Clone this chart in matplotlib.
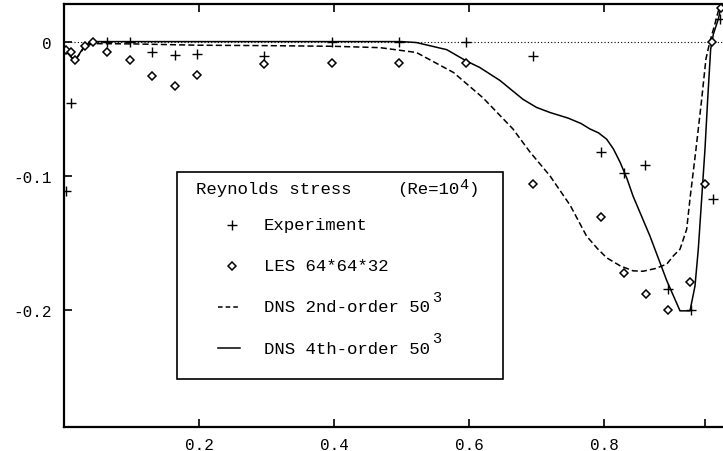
import matplotlib
matplotlib.use("Agg")
import matplotlib.pyplot as plt
from matplotlib.patches import Rectangle
from matplotlib.lines import Line2D

plt.rcParams['font.family'] = ['Liberation Mono', 'DejaVu Sans']
plt.rcParams['axes.unicode_minus'] = False

# ---- data ----
exp_x = [0.003, 0.010, 0.063, 0.098, 0.131, 0.164, 0.197, 0.297, 0.397, 0.496,
         0.595, 0.695, 0.795, 0.829, 0.861, 0.895, 0.929, 0.962, 0.972]
exp_y = [-0.111, -0.046, 0.0, 0.0, -0.008, -0.010, -0.009, -0.011, 0.0, 0.0,
         0.0, -0.011, -0.082, -0.0975, -0.092, -0.184, -0.200, -0.117, 0.017]

les_x = [0.003, 0.010, 0.016, 0.031, 0.043, 0.063, 0.098, 0.131, 0.164, 0.197,
         0.297, 0.397, 0.496, 0.595, 0.695, 0.795, 0.829, 0.862, 0.895, 0.928,
         0.949, 0.960, 0.973]
les_y = [-0.006, -0.008, -0.014, -0.003, 0.0, -0.008, -0.0136, -0.0255, -0.0334, -0.0252,
         -0.0168, -0.0156, -0.0156, -0.0156, -0.106, -0.1305, -0.172, -0.1876, -0.200, -0.179,
         -0.106, 0.0, 0.025]

dns2_x = [0.0, 0.016, 0.031, 0.043, 0.1, 0.2, 0.3, 0.4, 0.468, 0.522, 0.577, 0.621,
          0.665, 0.69, 0.72, 0.75, 0.774, 0.79, 0.804, 0.824, 0.843, 0.858, 0.876, 0.893,
          0.9027, 0.9126, 0.9225, 0.9274, 0.9363, 0.9447, 0.951, 0.957, 0.963, 0.970, 0.975]
dns2_y = [-0.0057, -0.0144, -0.0035, -0.0015, -0.0017, -0.0027, -0.003, -0.0035, -0.0045, -0.0081,
          -0.023, -0.042, -0.065, -0.082, -0.100, -0.122, -0.1447, -0.154, -0.161, -0.167, -0.1707,
          -0.171, -0.169, -0.1657, -0.1596, -0.1546, -0.1397, -0.117, -0.080, -0.043, -0.013,
          0.0003, 0.0107, 0.024, 0.029]

dns4_x = [0.0, 0.016, 0.031, 0.043, 0.1, 0.2, 0.3, 0.4, 0.5, 0.522, 0.567, 0.596, 0.616,
          0.646, 0.663, 0.680, 0.70, 0.72, 0.747, 0.766, 0.779, 0.792, 0.804, 0.814, 0.824,
          0.834, 0.843, 0.868, 0.893, 0.9126, 0.9274, 0.9348, 0.9397, 0.9447, 0.9496, 0.9536,
          0.958, 0.962, 0.9693, 0.9743]
dns4_y = [-0.0057, -0.0144, -0.0027, 0.0, 0.0, 0.0, 0.0, 0.0, 0.0, -0.0007, -0.006, -0.0144,
          -0.0193, -0.029, -0.036, -0.043, -0.049, -0.0528, -0.057, -0.061, -0.065, -0.068,
          -0.0727, -0.080, -0.090, -0.102, -0.115, -0.1447, -0.178, -0.2005, -0.2005, -0.182,
          -0.1546, -0.117, -0.080, -0.043, -0.0057, 0.0055, 0.0167, 0.0278]

xticks = [0.2, 0.4, 0.6, 0.8]
xticklabels = ['0.2', '0.4', '0.6', '0.8']
yticks = [0.0, -0.1, -0.2]
yticklabels = ['0', '-0.1', '-0.2']

W, H = 723, 452
fig = plt.figure(figsize=(W / 100, H / 100), dpi=100)
ax = fig.add_axes([64 / W, 1 - 428 / H, 675 / W, 423 / H])

ax.axhline(0, color='black', lw=0.8, ls=(0, (1, 2)))
ax.plot(dns2_x, dns2_y, color='black', lw=1.1, ls=(0, (4, 2)))
ax.plot(dns4_x, dns4_y, color='black', lw=1.1)
ax.plot(exp_x, exp_y, ls='none', marker='+', ms=7, mew=1.0, color='black')
ax.plot(les_x, les_y, ls='none', marker='D', ms=4.2, mew=1.1, mfc='white', mec='black')

ax.set_xlim(0, 1.0)
ax.set_ylim(-0.287, 0.028)
ax.set_xticks(xticks)
ax.set_xticklabels(xticklabels)
ax.set_xticks([0.95], minor=True)
ax.set_yticks(yticks)
ax.set_yticklabels(yticklabels)
ax.tick_params(which='major', direction='in', top=True, right=True, length=6, width=1.2,
               labelsize=11.5, pad=7)
ax.tick_params(which='minor', direction='in', top=False, bottom=True, length=6, width=1.2)
ax.tick_params(axis='y', pad=9)
for s in ax.spines.values():
    s.set_linewidth(1.6)

# ---- legend box (manual) ----
def fx(x):
    return x / W

def fy(y):
    return 1 - y / H

fig.add_artist(Rectangle((fx(177), fy(380)), (503 - 177) / W, (380 - 173) / H,
                         transform=fig.transFigure, fill=False, lw=1.2, color='black'))
fs = 12.5
sfs = 11
fig.text(fx(196), fy(190), 'Reynolds stress', fontsize=fs, va='center', ha='left')
fig.text(fx(397), fy(190), '(Re=10', fontsize=fs, va='center', ha='left')
fig.text(fx(459), fy(185), '4', fontsize=sfs, va='center', ha='left')
fig.text(fx(468), fy(190), ')', fontsize=fs, va='center', ha='left')

fig.add_artist(Line2D([fx(232)], [fy(226)], marker='+', ms=7, mew=1.0, color='black',
                      ls='none', transform=fig.transFigure))
fig.text(fx(264), fy(226), 'Experiment', fontsize=fs, va='center', ha='left')

fig.add_artist(Line2D([fx(232)], [fy(267)], marker='D', ms=4.2, mew=1.1, mfc='white',
                      mec='black', ls='none', transform=fig.transFigure))
fig.text(fx(264), fy(267), 'LES 64*64*32', fontsize=fs, va='center', ha='left')

fig.add_artist(Line2D([fx(218), fx(240)], [fy(308), fy(308)], color='black', lw=1.1,
                      ls=(0, (3, 2)), transform=fig.transFigure))
fig.text(fx(264), fy(308), 'DNS 2nd-order 50', fontsize=fs, va='center', ha='left')
fig.text(fx(432), fy(298), '3', fontsize=sfs, va='center', ha='left')

fig.add_artist(Line2D([fx(218), fx(240)], [fy(349), fy(349)], color='black', lw=1.1,
                      transform=fig.transFigure))
fig.text(fx(264), fy(349), 'DNS 4th-order 50', fontsize=fs, va='center', ha='left')
fig.text(fx(432), fy(339), '3', fontsize=sfs, va='center', ha='left')

fig.savefig('out.png', dpi=100)
